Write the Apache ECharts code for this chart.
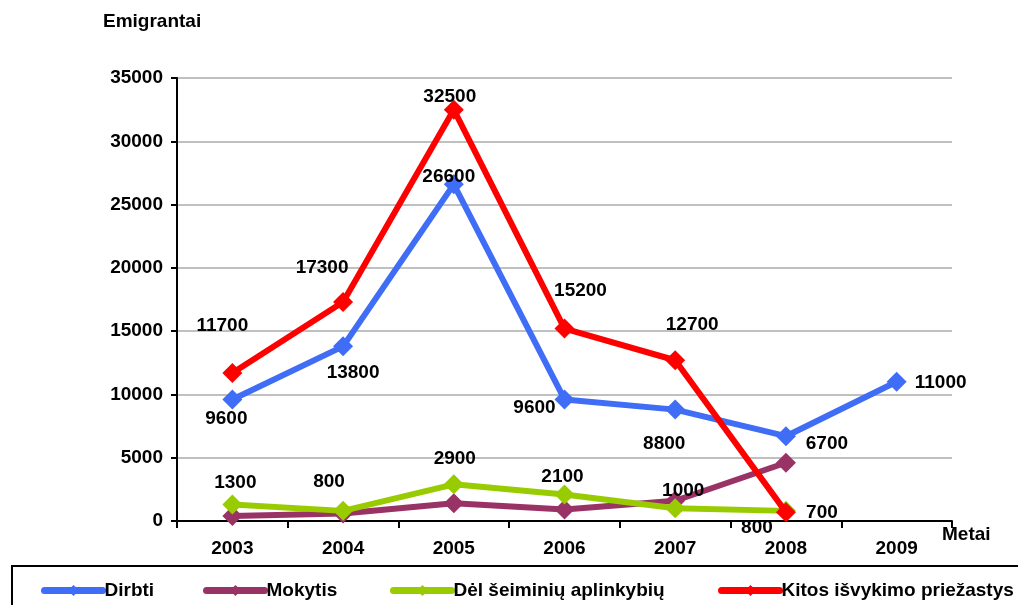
<!DOCTYPE html>
<html>
<head>
<meta charset="utf-8">
<script src="https://cdn.jsdelivr.net/npm/echarts@6/dist/echarts.min.js"></script>
<style>
html,body{margin:0;padding:0;background:#fff;}
#chart{width:1018px;height:605px;}
</style>
</head>
<body>
<div id="chart"></div>
<script>
// ---- data ----
const categories = ['2003', '2004', '2005', '2006', '2007', '2008', '2009'];
const seriesNames = ['Dirbti', 'Mokytis', 'Dėl šeiminių aplinkybių', 'Kitos išvykimo priežastys'];
const dirbti = [9600, 13800, 26600, 9600, 8800, 6700, 11000];
const mokytis = [400, 600, 1400, 900, 1600, 4600, null];
const seimos = [1300, 800, 2900, 2100, 1000, 800, null];
const kitos = [11700, 17300, 32500, 15200, 12700, 700, null];
const yMin = 0, yMax = 35000, yStep = 5000;
const yTitle = 'Emigrantai';
const xTitle = 'Metai';

// ---- style: label offsets (px) relative to each marker ----
const dirbtiLabelOff = [[-6, 19], [10, 26], [-5, -8], [-30, 8], [-11, 34], [41, 8], [44, 1]];
const seimosLabelOff = [[3, -22], [-14, -29], [1, -26], [-2, -18], [8, -18], [-29, 17]];
const kitosLabelOff = [[-10, -47], [-21, -34], [-4, -13], [16, -38], [17, -35], [36, 1]];

const FONT = "'Liberation Sans', Arial, sans-serif";
const colors = ['#3F6DF5', '#993366', '#99CC00', '#FF0000'];

function withLabels(values, offs) {
  return values.map((v, i) => {
    if (v == null) return null;
    if (!offs) return v;
    return { value: v, label: { offset: offs[i] } };
  });
}

function mkSeries(idx, values, offs) {
  return {
    name: seriesNames[idx],
    type: 'line',
    data: withLabels(values, offs),
    symbol: 'diamond',
    symbolSize: 20,
    lineStyle: { width: 6, color: colors[idx] },
    itemStyle: { color: colors[idx] },
    z: 2 + idx,
    label: {
      show: !!offs,
      position: 'inside',
      color: '#000',
      fontFamily: FONT,
      fontWeight: 'bold',
      fontSize: 19
    },
    emphasis: { disabled: true },
    animation: false
  };
}

const legendLefts = [36, 198, 385, 713];
const legends = seriesNames.map((n, i) => ({
  data: [n],
  left: legendLefts[i],
  top: 576,
  orient: 'horizontal',
  itemWidth: 58,
  itemHeight: 14,
  itemGap: 0,
  selectedMode: false,
  lineStyle: { width: 7, cap: 'round' },
  textStyle: { fontFamily: FONT, fontWeight: 'bold', fontSize: 19, color: '#000', padding: [0, 0, 0, -3] }
}));

const chart = echarts.init(document.getElementById('chart'), null, { renderer: 'canvas' });
chart.setOption({
  backgroundColor: '#fff',
  animation: false,
  color: colors,
  grid: { left: 177, right: 66, top: 78, bottom: 84, containLabel: false },
  legend: legends,
  xAxis: {
    type: 'category',
    data: categories,
    boundaryGap: true,
    axisLine: { lineStyle: { color: '#000', width: 2 } },
    axisTick: { show: true, length: 7, alignWithLabel: false, lineStyle: { color: '#000', width: 2 } },
    axisLabel: { color: '#000', fontFamily: FONT, fontWeight: 'bold', fontSize: 19, margin: 18 },
    splitLine: { show: false }
  },
  yAxis: {
    type: 'value',
    min: yMin, max: yMax, interval: yStep,
    axisLine: { show: true, lineStyle: { color: '#000', width: 2 } },
    axisTick: { show: true, length: 6, lineStyle: { color: '#000', width: 2 } },
    axisLabel: { color: '#000', fontFamily: FONT, fontWeight: 'bold', fontSize: 19, margin: 14, formatter: v => String(v) },
    splitLine: { show: true, lineStyle: { color: '#C0C0C0', width: 2 } }
  },
  graphic: [
    { type: 'text', left: 103, top: 12, style: { text: yTitle, fill: '#000', font: 'bold 19px ' + FONT } },
    { type: 'text', left: 942, top: 525, style: { text: xTitle, fill: '#000', font: 'bold 19px ' + FONT } },
    { type: 'rect', shape: { x: 12, y: 566, width: 1020, height: 60 }, style: { fill: 'none', stroke: '#000', lineWidth: 2 }, z: 0 }
  ],
  series: [
    mkSeries(0, dirbti, dirbtiLabelOff),
    mkSeries(1, mokytis, null),
    mkSeries(2, seimos, seimosLabelOff),
    mkSeries(3, kitos, kitosLabelOff)
  ]
});
</script>
</body>
</html>
